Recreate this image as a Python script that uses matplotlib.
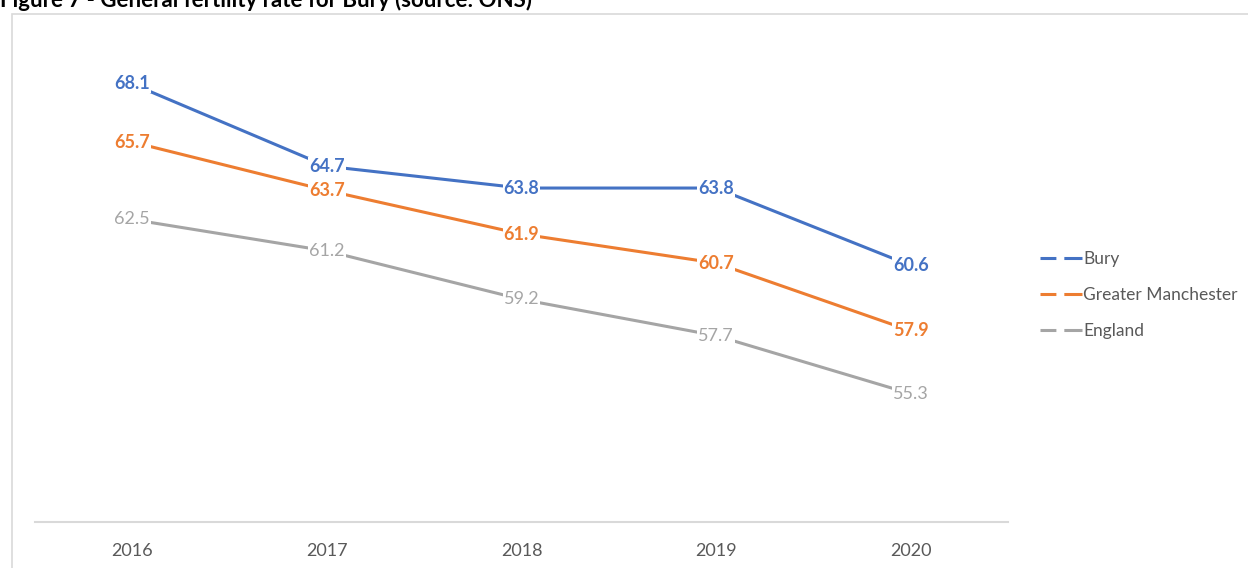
import matplotlib
matplotlib.use("Agg")
import matplotlib.pyplot as plt
from matplotlib.lines import Line2D
from matplotlib.patches import Rectangle

years = ["2016", "2017", "2018", "2019", "2020"]
bury = [68.1, 64.7, 63.8, 63.8, 60.6]
greater_manchester = [65.7, 63.7, 61.9, 60.7, 57.9]
england = [62.5, 61.2, 59.2, 57.7, 55.3]
series_names = ["Bury", "Greater Manchester", "England"]
colors = ["#4472C4", "#ED7D31", "#A5A5A5"]
title = "Figure 7 - General fertility rate for Bury (source: ONS)"

plt.rcParams['font.family'] = ['Lato', 'DejaVu Sans']

fig = plt.figure(figsize=(12.48, 5.68), dpi=100)
W, H = 1248, 568

# outer chart border
fig.patches.append(Rectangle((12 / W, -0.1), 1.2, 1 - 14 / H + 0.1, transform=fig.transFigure,
                             facecolor="none", edgecolor="#d9d9d9", lw=1.2))

fig.text(0.0, 1 - 7 / H, title, fontsize=16, fontweight="bold", color="#000000",
         va="baseline", ha="left")

ax = fig.add_axes([35 / W, 1 - 522 / H, (1008 - 35) / W, (522 - 38) / H])
ax.set_facecolor("none")
x = list(range(len(years)))
handles = []
for vals, name, c in zip([bury, greater_manchester, england], series_names, colors):
    ax.plot(x, vals, color=c, lw=2.2, solid_capstyle="round", zorder=2)
    for xi, v in zip(x, vals):
        ax.text(xi, v, f"{v:.1f}", color=c, fontsize=13,
                fontweight="bold" if c != "#A5A5A5" else "normal",
                ha="center", va="center", zorder=3,
                bbox=dict(boxstyle="square,pad=0.05", facecolor="white", edgecolor="none"))
    handles.append(Line2D([0], [0], color=c, lw=2.2, linestyle=(0, (5.2, 2.6, 6.5, 10))))

ax.set_xlim(-0.5, len(years) - 0.5)
ax.set_ylim(50, 70)
ax.set_xticks(x)
ax.set_xticklabels(years, fontsize=13, color="#595959")
ax.tick_params(axis="x", length=0, pad=15)
ax.set_yticks([])
for s in ["top", "left", "right"]:
    ax.spines[s].set_visible(False)
ax.spines["bottom"].set_color("#d9d9d9")
ax.spines["bottom"].set_linewidth(1.5)

fig.legend(handles, series_names, loc="center left",
           bbox_to_anchor=(1040 / W, 1 - 295 / H), frameon=False,
           fontsize=12.5, labelcolor="#595959", handlelength=2.4,
           handletextpad=0.1, labelspacing=1.15, borderaxespad=0, borderpad=0)

fig.savefig("out.png", dpi=100)
